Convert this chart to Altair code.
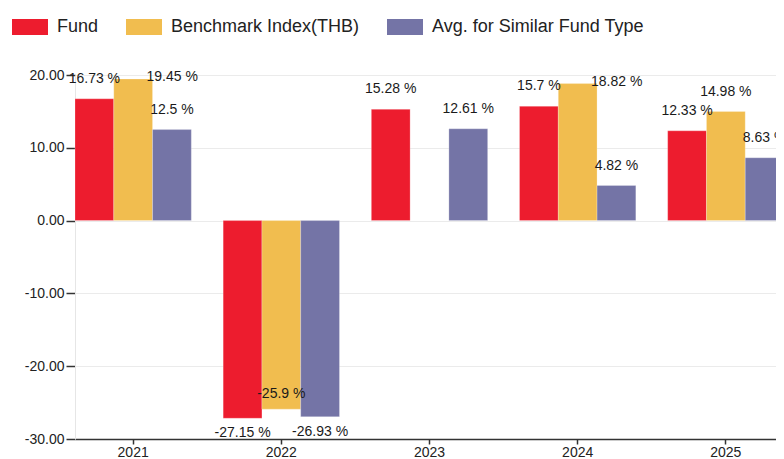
import altair as alt
import pandas as pd

years = ["2021", "2022", "2023", "2024", "2025"]
series = ["Fund", "Benchmark Index(THB)", "Avg. for Similar Fund Type"]
fund = [16.73, -27.15, 15.28, 15.7, 12.33]
bench = [19.45, -25.9, None, 18.82, 14.98]
avg = [12.5, -26.93, 12.61, 4.82, 8.63]
colors = ["#ED1C2E", "#F1BD4F", "#7474A6"]

rows = []
for name, vals in zip(series, [fund, bench, avg]):
    for y, v in zip(years, vals):
        if v is None:
            continue
        rows.append({"year": y, "series": name, "value": v, "label": f"{v:g} %"})
df = pd.DataFrame(rows)

FONT = "Liberation Sans"

x_enc = alt.X(
    "year:N",
    sort=years,
    scale=alt.Scale(domain=years, paddingInner=0.215, paddingOuter=0, range=[0, 709]),
    axis=alt.Axis(
        title=None, labelAngle=0, labelFontSize=14, labelFont=FONT, labelColor="#222222",
        labelPadding=1, tickSize=5, tickColor="#333333", tickWidth=1.5,
        domainColor="#333333", domainWidth=1.5, grid=False,
    ),
)
xo_enc = alt.XOffset("series:N", sort=series,
                     scale=alt.Scale(domain=series, paddingInner=0, paddingOuter=0))
y_enc = alt.Y(
    "value:Q",
    scale=alt.Scale(domain=[-30, 20], nice=False, zero=False),
    axis=alt.Axis(
        title=None, values=[-30, -20, -10, 0, 10, 20],
        labelExpr="replace(format(datum.value, '.2f'), '\u2212', '-')",
        labelFontSize=14, labelFont=FONT, labelColor="#222222", labelPadding=2,
        tickSize=9, tickColor="#333333", tickWidth=1.5,
        domainColor="#e6e6e6", gridColor="#ebebeb", gridWidth=1.2,
    ),
)

base = alt.Chart(df)

bars = base.mark_bar(stroke="#ffffff", strokeWidth=0.4, strokeOpacity=0.6).encode(
    x=x_enc,
    xOffset=xo_enc,
    y=y_enc,
    color=alt.Color(
        "series:N",
        sort=series,
        scale=alt.Scale(domain=series, range=colors),
        legend=alt.Legend(
            title=None, orient="none", direction="horizontal",
            legendX=-63, legendY=-66, padding=0,
            symbolType="M-1,-0.444L1,-0.444L1,0.444L-1,0.444Z",
            symbolSize=1296, symbolStrokeWidth=0, symbolOpacity=1,
            labelFontSize=18, labelFont=FONT, labelColor="#222222",
            labelOffset=9, columnPadding=27, labelLimit=400,
        ),
    ),
)

def labels(filter_expr, dx, dy):
    return base.transform_filter(filter_expr).mark_text(
        fontSize=14, font=FONT, color="#1a1a1a", baseline="middle", align="center",
        dx=dx, dy=dy,
    ).encode(x=alt.X("year:N", sort=years), xOffset=alt.XOffset("series:N", sort=series),
             y="value:Q", text="label:N")

bench_name = series[1]
above = labels("datum.value >= 0 && datum.value <= 18", 0, -20)
right = labels("datum.value > 18", 39, -2)
below = labels(f"datum.value < 0 && datum.series != '{bench_name}'", 0, 15)
inside = labels(f"datum.value < 0 && datum.series == '{bench_name}'", 0, -15)

chart = alt.layer(bars, above, right, below, inside).properties(
    width=701,
    height=364,
    autosize=alt.AutoSizeParams(type="none"),
    padding={"left": 67, "top": 67, "right": 0, "bottom": 20},
).configure_view(stroke=None)

chart.save("out.html", embed_options={"renderer": "svg", "actions": False})
